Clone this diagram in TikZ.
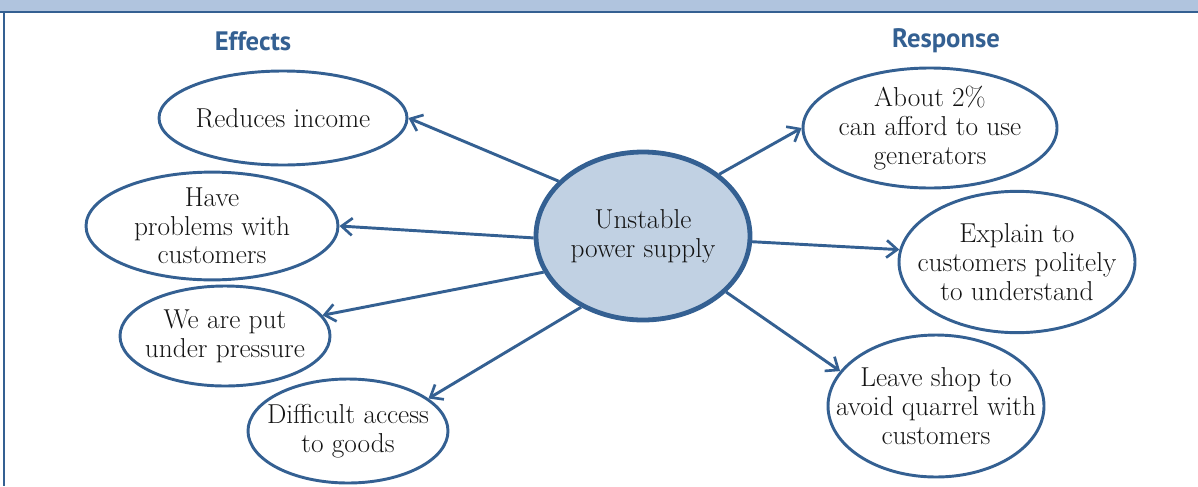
\documentclass[tikz,border=0pt]{standalone}
\usepackage{fontspec}
\newfontfamily\headfont{PT Sans}
\usetikzlibrary{shapes.geometric,arrows.meta}

\definecolor{edgeblue}{RGB}{52,96,146}
\definecolor{bubblefill}{RGB}{193,209,227}
\definecolor{bandblue}{RGB}{176,196,222}
\definecolor{inktext}{RGB}{20,20,20}

\tikzset{every picture/.style={line width=0.75pt}}
\tikzset{
  bubble/.style={ellipse, draw=edgeblue, line width=2.2pt, inner xsep=-20pt, inner ysep=0pt,
    align=center, text=inktext, font=\fontsize{20.5}{21.5}\selectfont},
  hub/.style={bubble, fill=bubblefill, line width=3.6pt},
  link/.style={draw=edgeblue, line width=2.2pt, -{Straight Barb[length=8pt,width=13pt,line width=2pt]}},
  heading/.style={text=edgeblue, font=\headfont\bfseries\fontsize{20}{22}\selectfont}
}

\begin{document}
\begin{tikzpicture}[x=0.75pt,y=0.75pt,yscale=-1,xscale=1]
\useasboundingbox (0,0) rectangle (1198,486);

%Shape: Title band
\fill [bandblue] (0,0) rectangle (1198,11) ;
\draw [edgeblue, line width=1.5pt] (0,11.5) -- (1198,11.5) ;
\draw [edgeblue, line width=1.2pt] (4,11) -- (4,486) ;

% Text Node
\node [heading] (effects) at (253,41) {Effects};
% Text Node
\node [heading] (response) at (946,41) {Response};

%Shape: Ellipse
\node [hub, minimum width=160.5pt, minimum height=126pt] (supply) at (643,236) {Unstable\\power supply};

%Shape: Ellipse
\node [bubble, minimum width=186pt, minimum height=70.5pt] (income) at (283,118) {Reduces income};
%Shape: Ellipse
\node [bubble, minimum width=189pt, minimum height=73.5pt] (problems) at (212,226) {Have\\problems with\\customers};
%Shape: Ellipse
\node [bubble, minimum width=157.5pt, minimum height=75pt] (pressure) at (225,336) {We are put\\under pressure};
%Shape: Ellipse
\node [bubble, minimum width=150pt, minimum height=78pt] (goods) at (348,431) {Difficult access\\to goods};

%Shape: Ellipse
\node [bubble, minimum width=190.5pt, minimum height=90pt] (generators) at (930,128) {About 2\%\\can afford to use\\generators};
%Shape: Ellipse
\node [bubble, minimum width=177pt, minimum height=106pt] (explain) at (1017,262) {Explain to\\customers politely\\to understand};
%Shape: Ellipse
\node [bubble, minimum width=162pt, minimum height=106.5pt] (leave) at (936,406) {Leave shop to\\avoid quarrel with\\customers};

%Straight Lines
\draw [link] (supply.147) -- (income.east) ;
\draw [link] (supply.181) -- (problems.east) ;
\draw [link] (supply.200) -- (pressure.12) ;
\draw [link] (supply.229) -- (goods.22) ;
%Straight Lines
\draw [link] (supply.39) -- (generators.west) ;
\draw [link] (supply.357) -- (explain.174) ;
\draw [link] (supply.326) -- (leave.160) ;

\end{tikzpicture}
\end{document}
